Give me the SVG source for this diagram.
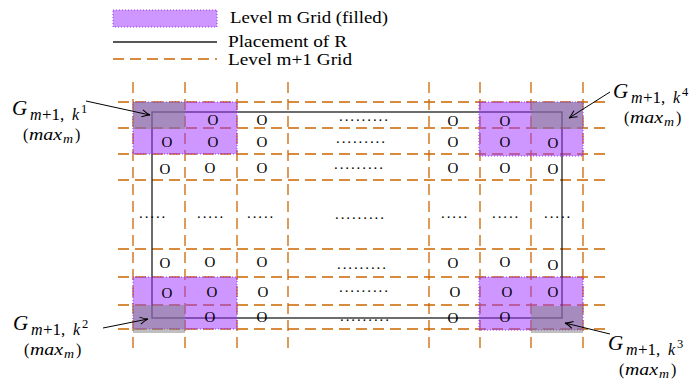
<svg xmlns="http://www.w3.org/2000/svg" width="697" height="383" viewBox="0 0 697 383">
  <style>
    text { font-family: "Liberation Serif", "Times New Roman", serif; fill: #000; }
    .it { font-style: italic; }
    .grid { stroke: #cc6600; stroke-width: 1.3; stroke-dasharray: 11 6; fill: none; }
    .region { stroke: #1f1f1f; stroke-width: 1.3; fill: none; }
    .cell { fill: #9b30ff; fill-opacity: 0.5; stroke: #9933ff; stroke-width: 1; stroke-dasharray: 1 2; }
    .corner { fill: #808080; fill-opacity: 0.5; }
    .pt { font-size: 15px; text-anchor: middle; }
    .dots { font-size: 15px; letter-spacing: 1.9px; }
    .arrow { stroke: #000; stroke-width: 1; fill: none; marker-end: url(#ah); }
    .leg { font-size: 16px; }
    .big { font-size: 21px; font-style: italic; }
    .sub { font-size: 16px; }
    .subn { font-size: 17px; }
    .sup { font-size: 12.5px; }
    .mx { font-size: 16px; }
  </style>
  <defs>
    <marker id="ah" viewBox="-10 -5 12 10" refX="0" refY="0" markerWidth="12" markerHeight="10" markerUnits="userSpaceOnUse" orient="auto">
      <path d="M-8,-3.5 Q-3,-0.6 0,0 Q-3,0.6 -8,3.5" fill="none" stroke="#000" stroke-width="1"/>
    </marker>
  </defs>

  <!-- legend -->
  <g id="legend">
    <rect class="cell" x="113" y="10" width="104" height="17"/>
    <text class="leg" x="230" y="23" textLength="158" lengthAdjust="spacingAndGlyphs">Level m Grid (filled)</text>
    <line x1="113" y1="42" x2="217" y2="42" stroke="#1f1f1f" stroke-width="1.3"/>
    <text class="leg" x="228" y="47" textLength="119" lengthAdjust="spacingAndGlyphs">Placement of R</text>
    <line class="grid" x1="113" y1="59" x2="217" y2="59"/>
    <text class="leg" x="228" y="65" textLength="124" lengthAdjust="spacingAndGlyphs">Level m+1 Grid</text>
  </g>

  <!-- level m+1 grid -->
  <g id="grid-m1">
    <line class="grid" x1="133" y1="82" x2="133" y2="350"/>
    <line class="grid" x1="185" y1="82" x2="185" y2="350"/>
    <line class="grid" x1="237" y1="82" x2="237" y2="350"/>
    <line class="grid" x1="288" y1="82" x2="288" y2="350"/>
    <line class="grid" x1="429" y1="82" x2="429" y2="350"/>
    <line class="grid" x1="480" y1="82" x2="480" y2="350"/>
    <line class="grid" x1="531" y1="82" x2="531" y2="350"/>
    <line class="grid" x1="583" y1="82" x2="583" y2="350"/>
    <line class="grid" x1="118" y1="102" x2="608" y2="102"/>
    <line class="grid" x1="118" y1="128" x2="608" y2="128"/>
    <line class="grid" x1="118" y1="154" x2="608" y2="154"/>
    <line class="grid" x1="118" y1="180" x2="608" y2="180"/>
    <line class="grid" x1="118" y1="249" x2="608" y2="249"/>
    <line class="grid" x1="118" y1="277" x2="608" y2="277"/>
    <line class="grid" x1="118" y1="305" x2="608" y2="305"/>
    <line class="grid" x1="118" y1="329" x2="608" y2="329"/>
  </g>

  <!-- placement of R -->
  <g id="region-R">
    <rect class="region" x="152" y="112" width="410" height="206"/>
  </g>

  <!-- level m cells with the k-corner cells -->
  <g id="cell-k1">
    <rect class="cell" x="133" y="102" width="104" height="52"/>
    <rect class="corner" x="133" y="102" width="52" height="27"/>
  </g>
  <g id="cell-k4">
    <rect class="cell" x="479" y="102" width="104" height="54"/>
    <rect class="corner" x="531" y="102" width="52" height="27"/>
  </g>
  <g id="cell-k2">
    <rect class="cell" x="133" y="277" width="104" height="52"/>
    <rect class="corner" x="133" y="305" width="52" height="28"/>
  </g>
  <g id="cell-k3">
    <rect class="cell" x="479" y="277" width="104" height="53"/>
    <rect class="corner" x="531" y="306" width="52" height="27"/>
  </g>

  <!-- sample points -->
  <g id="points">
    <text class="pt" x="213" y="125">O</text>
    <text class="pt" x="262" y="125">O</text>
    <text class="pt" x="453" y="125.5">O</text>
    <text class="pt" x="505" y="125.5">O</text>

    <text class="pt" x="167" y="147">O</text>
    <text class="pt" x="213" y="146.5">O</text>
    <text class="pt" x="262" y="147">O</text>
    <text class="pt" x="453" y="147">O</text>
    <text class="pt" x="505" y="147">O</text>
    <text class="pt" x="553" y="148">O</text>

    <text class="pt" x="165" y="174">O</text>
    <text class="pt" x="210" y="173">O</text>
    <text class="pt" x="262" y="173">O</text>
    <text class="pt" x="453" y="173">O</text>
    <text class="pt" x="505" y="173">O</text>
    <text class="pt" x="553" y="174">O</text>

    <text class="pt" x="165" y="268">O</text>
    <text class="pt" x="210" y="267">O</text>
    <text class="pt" x="262" y="267">O</text>
    <text class="pt" x="453" y="268">O</text>
    <text class="pt" x="505" y="267">O</text>
    <text class="pt" x="553" y="270">O</text>

    <text class="pt" x="167" y="298">O</text>
    <text class="pt" x="212" y="297">O</text>
    <text class="pt" x="263" y="297">O</text>
    <text class="pt" x="455" y="297">O</text>
    <text class="pt" x="507" y="297">O</text>
    <text class="pt" x="553" y="297">O</text>

    <text class="pt" x="210" y="322">O</text>
    <text class="pt" x="262" y="322">O</text>
    <text class="pt" x="453" y="323">O</text>
    <text class="pt" x="505" y="322">O</text>
  </g>

  <!-- ellipsis dots -->
  <g id="ellipses">
    <text class="dots" x="339" y="121">.........</text>
    <text class="dots" x="336" y="143">.........</text>
    <text class="dots" x="334" y="169">.........</text>
    <text class="dots" x="335" y="219">.........</text>
    <text class="dots" x="337" y="269">.........</text>
    <text class="dots" x="339" y="292">.........</text>
    <text class="dots" x="340" y="321">.........</text>

    <text class="dots" x="139" y="218">.....</text>
    <text class="dots" x="197" y="218">.....</text>
    <text class="dots" x="247" y="218">.....</text>
    <text class="dots" x="441" y="218">.....</text>
    <text class="dots" x="492" y="218">.....</text>
    <text class="dots" x="544" y="218">.....</text>
  </g>

  <!-- corner labels -->
  <g id="label-k1" transform="translate(12,115)">
    <text><tspan class="big" x="0" y="0">G</tspan><tspan class="sub it" x="18" y="5">m</tspan><tspan class="subn" x="30" y="5">+1,</tspan><tspan class="sub it" x="60" y="5">k</tspan><tspan class="sup" x="69" y="-2">1</tspan></text>
    <text class="mx"><tspan x="11" y="25">(</tspan><tspan class="it" x="17" y="25" textLength="33" lengthAdjust="spacingAndGlyphs">max</tspan><tspan class="it" x="51" y="28" font-size="12" textLength="10" lengthAdjust="spacingAndGlyphs">m</tspan><tspan x="63" y="25">)</tspan></text>
  </g>
  <g id="label-k4" transform="translate(613,98)">
    <text><tspan class="big" x="0" y="0">G</tspan><tspan class="sub it" x="18" y="5">m</tspan><tspan class="subn" x="30" y="5">+1,</tspan><tspan class="sub it" x="60" y="5">k</tspan><tspan class="sup" x="69" y="-2">4</tspan></text>
    <text class="mx"><tspan x="11" y="25">(</tspan><tspan class="it" x="17" y="25" textLength="33" lengthAdjust="spacingAndGlyphs">max</tspan><tspan class="it" x="51" y="28" font-size="12" textLength="10" lengthAdjust="spacingAndGlyphs">m</tspan><tspan x="63" y="25">)</tspan></text>
  </g>
  <g id="label-k2" transform="translate(13,330)">
    <text><tspan class="big" x="0" y="0">G</tspan><tspan class="sub it" x="18" y="5">m</tspan><tspan class="subn" x="30" y="5">+1,</tspan><tspan class="sub it" x="60" y="5">k</tspan><tspan class="sup" x="69" y="-2">2</tspan></text>
    <text class="mx"><tspan x="11" y="25">(</tspan><tspan class="it" x="17" y="25" textLength="33" lengthAdjust="spacingAndGlyphs">max</tspan><tspan class="it" x="51" y="28" font-size="12" textLength="10" lengthAdjust="spacingAndGlyphs">m</tspan><tspan x="63" y="25">)</tspan></text>
  </g>
  <g id="label-k3" transform="translate(608,350)">
    <text><tspan class="big" x="0" y="0">G</tspan><tspan class="sub it" x="18" y="5">m</tspan><tspan class="subn" x="30" y="5">+1,</tspan><tspan class="sub it" x="60" y="5">k</tspan><tspan class="sup" x="69" y="-2">3</tspan></text>
    <text class="mx"><tspan x="11" y="25">(</tspan><tspan class="it" x="17" y="25" textLength="33" lengthAdjust="spacingAndGlyphs">max</tspan><tspan class="it" x="51" y="28" font-size="12" textLength="10" lengthAdjust="spacingAndGlyphs">m</tspan><tspan x="63" y="25">)</tspan></text>
  </g>

  <!-- pointers from labels to corner cells -->
  <g id="connectors">
    <line class="arrow" x1="86" y1="101" x2="150" y2="115"/>
    <line class="arrow" x1="610" y1="92" x2="569" y2="118"/>
    <line class="arrow" x1="103" y1="328" x2="148" y2="319"/>
    <line class="arrow" x1="610" y1="334" x2="565" y2="323"/>
  </g>
</svg>
